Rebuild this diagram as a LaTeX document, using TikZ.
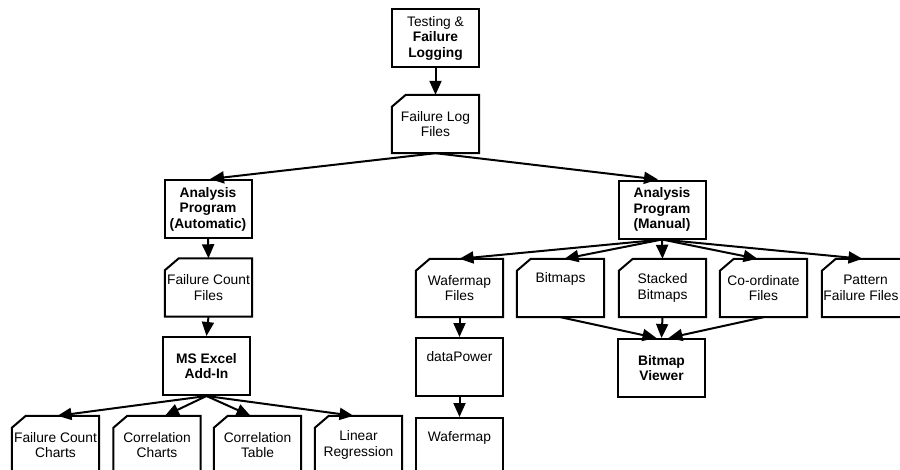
\documentclass[tikz,border=0pt]{standalone}
\usepackage{fontspec}
\setmainfont{Liberation Sans}
\usetikzlibrary{arrows.meta}
\newcommand{\docoutline}[1]{\draw[boxline] ([yshift=-12pt]#1.north west) -- ([xshift=14pt]#1.north west) -- (#1.north east) -- (#1.south east) -- (#1.south west) -- cycle;}
\begin{document}
\begin{tikzpicture}[x=1pt,y=-1pt,
  box/.style={minimum width=87pt, minimum height=58pt, inner sep=0pt, align=center, font=\fontsize{13.8}{15.5}\selectfont},
  plainbox/.style={box, draw, line width=2pt},
  docbox/.style={box},
  boxline/.style={line width=2pt, line join=miter},
  conn/.style={line width=2pt, -{Triangle[length=14pt,width=12pt]}}]
\useasboundingbox (0,0) rectangle (900,469);
\clip (0,0) rectangle (900,469);

\node[plainbox] (test) at (435.5,38) {Testing \&\\\textbf{Failure}\\\textbf{Logging}};
\node[docbox] (flf) at (435.5,124) {Failure Log\\Files};
\node[plainbox] (auto) at (208,209) {\textbf{Analysis}\\\textbf{Program}\\\textbf{(Automatic)}};
\node[plainbox] (manual) at (662,209.5) {\textbf{Analysis}\\\textbf{Program}\\\textbf{(Manual)}};
\node[docbox] (fcf) at (208.5,287.5) {Failure Count\\Files};
\node[plainbox] (excel) at (206.5,366) {\textbf{MS Excel}\\\textbf{Add-In}};
\node[docbox] (fcc) at (55.5,445) {Failure Count\\Charts};
\node[docbox] (cc) at (157,445) {Correlation\\Charts};
\node[docbox] (ct) at (257.5,445) {Correlation\\Table};
\node[docbox] (lr) at (358.5,445) {Linear\\Regression};
\node[docbox] (wf) at (459.5,288) {Wafermap\\Files};
\node[docbox] (bm) at (560.5,288) {Bitmaps\\\strut};
\node[docbox] (sb) at (662.5,288) {Stacked\\Bitmaps};
\node[docbox] (co) at (763.5,288) {Co-ordinate\\Files};
\node[docbox] (pf) at (865.5,288) {Pattern\\Failure Files\hspace*{9pt}};
\node[plainbox] (dp) at (459.5,367) {dataPower\\\strut};
\node[plainbox] (wm) at (459.5,447) {Wafermap\\\strut};
\node[plainbox] (bv) at (661.5,368) {\textbf{Bitmap}\\\textbf{Viewer}};

\foreach \n in {flf,fcf,fcc,cc,ct,lr,wf,bm,sb,co,pf} {\docoutline{\n}}

\draw[conn] (test.south) -- (flf.north);
\draw[conn] (flf.south) -- ([xshift=2pt]auto.north);
\draw[conn] (flf.south) -- ([xshift=-4pt]manual.north);
\draw[conn] (auto.south) -- (fcf.north);
\draw[conn] (fcf.south) -- (excel.north);
\draw[conn] (excel.south) -- ([xshift=2pt]fcc.north);
\draw[conn] (excel.south) -- ([xshift=8pt]cc.north);
\draw[conn] (excel.south) -- ([xshift=-7pt]ct.north);
\draw[conn] (excel.south) -- ([xshift=-5pt]lr.north);
\draw[conn] (manual.south) -- (wf.north);
\draw[conn] (manual.south) -- ([xshift=4pt]bm.north);
\draw[conn] (manual.south) -- (sb.north);
\draw[conn] (manual.south) -- ([xshift=-6pt]co.north);
\draw[conn] (manual.south) -- ([xshift=-3pt]pf.north);
\draw[conn] (wf.south) -- (dp.north);
\draw[conn] (dp.south) -- (wm.north);
\draw[conn] (bm.south) -- ([xshift=-5pt]bv.north);
\draw[conn] (sb.south) -- (bv.north);
\draw[conn] (co.south) -- ([xshift=7pt]bv.north);
\end{tikzpicture}
\end{document}
